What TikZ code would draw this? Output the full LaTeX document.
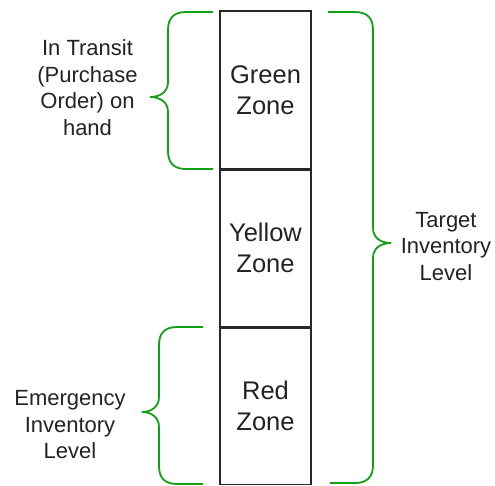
\documentclass[tikz,border=0pt]{standalone}
\usepackage{fontspec}
\setmainfont{Liberation Sans}
\definecolor{bracegreen}{RGB}{20,160,20}
\definecolor{boxline}{RGB}{40,40,40}
\definecolor{txt}{RGB}{35,35,35}
\begin{document}
\begin{tikzpicture}[x=1pt,y=-1pt,
  zone/.style={draw=boxline,line width=1.3pt,minimum width=91pt,minimum height=158pt,inner sep=0pt,
    align=center,text=txt,font=\fontsize{25.5}{31}\selectfont},
  lbl/.style={align=center,text=txt,font=\fontsize{22}{26.5}\selectfont,inner sep=0pt},
  brace/.style={draw=bracegreen,line width=1.8pt}]
\useasboundingbox (0,0) rectangle (495,485);
\node[zone] (green) at (265.5,90) {Green\\Zone};
\node[zone] (yellow) at (265.5,248) {Yellow\\Zone};
\node[zone] (red) at (265.5,405.5) {Red\\Zone};
\draw[boxline,line width=2.2pt] (green.south west) -- (green.south east);
\draw[boxline,line width=2.2pt] (yellow.south west) -- (yellow.south east);
% top-left brace
\draw[brace] (213,12) -- (186,12) .. controls (174,12) and (168,18) .. (168,30) -- (168,82)
  .. controls (168,92) and (160,97) .. (150,97) .. controls (160,97) and (168,102) .. (168,112)
  -- (168,151) .. controls (168,163) and (174,169) .. (186,169) -- (213,169);
% bottom-left brace
\draw[brace] (203,327) -- (177,327) .. controls (165,327) and (159,333) .. (159,345) -- (159,397)
  .. controls (159,407) and (151,412) .. (142,412) .. controls (151,412) and (159,417) .. (159,427)
  -- (159,466) .. controls (159,478) and (165,484) .. (177,484) -- (203,484);
% right brace
\draw[brace] (328,12) -- (355,12) .. controls (367,12) and (373,18) .. (373,30) -- (373,228)
  .. controls (373,238) and (381,243) .. (391,243) .. controls (381,243) and (373,248) .. (373,258)
  -- (373,465) .. controls (373,477) and (367,483) .. (355,483) -- (330,483);
\node[lbl] (transit) at (87.5,87.5) {In Transit\\(Purchase\\Order) on\\hand};
\node[lbl] (emerg) at (70,425) {Emergency\\Inventory\\Level};
\node[lbl] (target) at (446,246.5) {Target\\Inventory\\Level};
\end{tikzpicture}
\end{document}
